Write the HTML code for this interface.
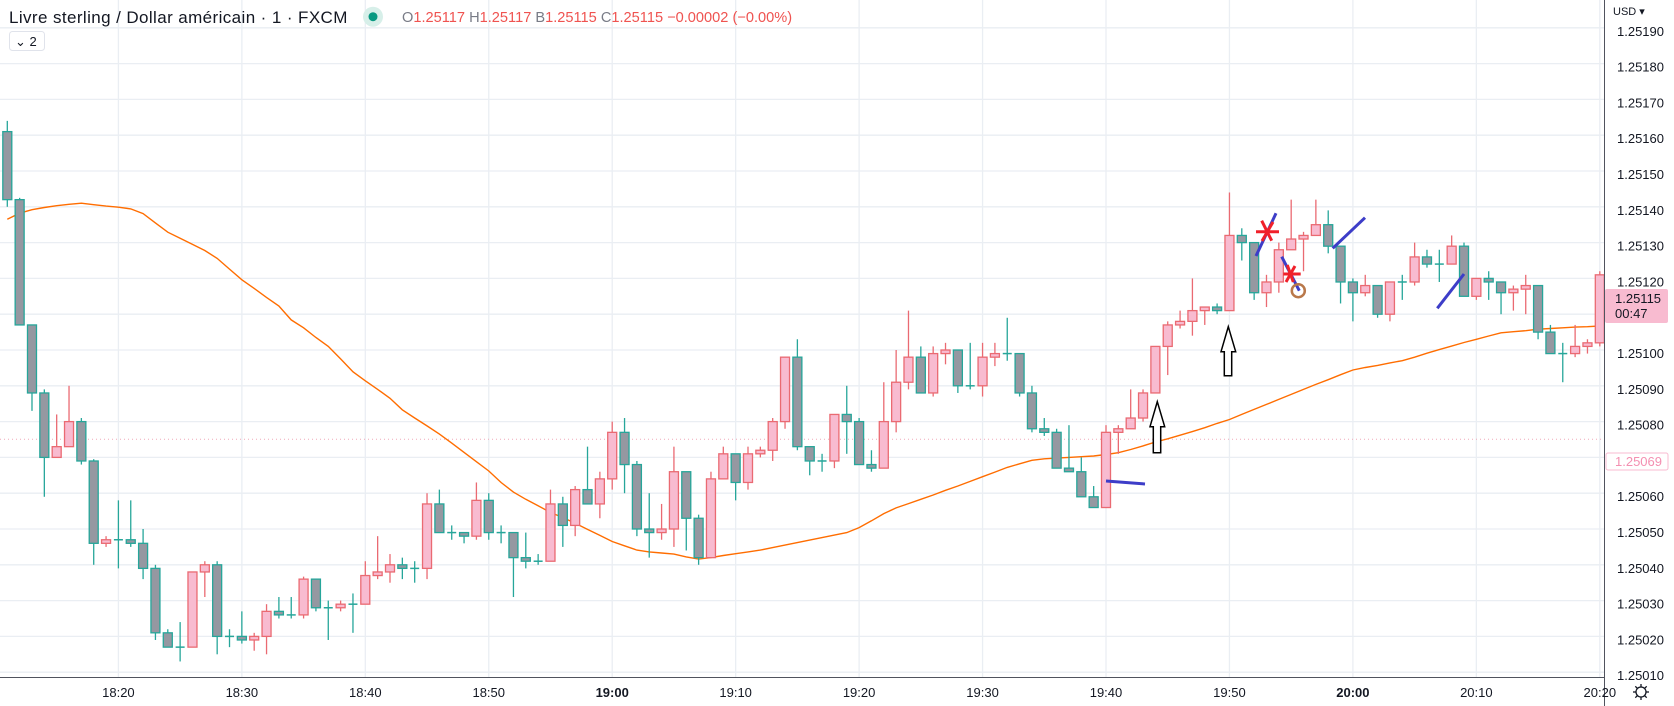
<!DOCTYPE html>
<html><head><meta charset="utf-8">
<style>
html,body{margin:0;padding:0;background:#fff;}
body{width:1674px;height:706px;overflow:hidden;position:relative;font-family:"Liberation Sans",sans-serif;}
svg{position:absolute;left:0;top:0;}
</style></head>
<body>
<svg id="chart" width="1674" height="706" viewBox="0 0 1674 706" xmlns="http://www.w3.org/2000/svg">
  <g id="grid"></g>
  <line x1="0" y1="439.3" x2="1604" y2="439.3" stroke="#f0a8b8" stroke-width="1" stroke-dasharray="1,3"/>
  <polyline id="ema" fill="none" stroke="#ff6d00" stroke-width="1.4"/>
  <g id="candles"></g>
  <g id="drawings">
    <line x1="1106" y1="481" x2="1145" y2="484" stroke="#3d3dc8" stroke-width="3"/>
    <path d="M1157.3,401.7 L1164.7,426.7 L1160.7,426.7 L1160.7,452.7 L1153.3,452.7 L1153.3,426.7 L1150,426.7 Z" fill="#fff" stroke="#000" stroke-width="1.5"/>
    <path d="M1228.3,326.7 L1235.7,351.7 L1231.7,351.7 L1231.7,375.7 L1224.3,375.7 L1224.3,351.7 L1221,351.7 Z" fill="#fff" stroke="#000" stroke-width="1.5"/>
    <line x1="1256" y1="256" x2="1276" y2="213.3" stroke="#3d3dc8" stroke-width="3"/>
    <g stroke="#f0202a" stroke-width="3">
      <line x1="1256" y1="231.7" x2="1279" y2="231.7"/>
      <line x1="1261.7" y1="220.7" x2="1271.7" y2="240.7"/>
      <line x1="1273" y1="222" x2="1262" y2="241"/>
    </g>
    <line x1="1281.7" y1="256.7" x2="1299.3" y2="290.7" stroke="#3d3dc8" stroke-width="3"/>
    <g stroke="#f0202a" stroke-width="3">
      <line x1="1283.3" y1="274" x2="1300.7" y2="274"/>
      <line x1="1287.3" y1="265" x2="1293.3" y2="282"/>
      <line x1="1295" y1="266" x2="1286" y2="282"/>
    </g>
    <circle cx="1298.3" cy="290.7" r="6.5" fill="none" stroke="#b9784a" stroke-width="2.5"/>
    <line x1="1332.7" y1="248.3" x2="1365" y2="217.7" stroke="#3d3dc8" stroke-width="3"/>
    <line x1="1437.3" y1="308.3" x2="1464" y2="274" stroke="#3d3dc8" stroke-width="3"/>
  </g>
  <!-- axes -->
  <rect x="1604" y="0" width="70" height="706" fill="#fff"/>
  <rect x="0" y="677" width="1604" height="29" fill="#fff"/>
  <line x1="1604.5" y1="0" x2="1604.5" y2="706" stroke="#50535e" stroke-width="1"/>
  <line x1="0" y1="677.5" x2="1604" y2="677.5" stroke="#50535e" stroke-width="1"/>
  <g id="yticks" font-family="Liberation Sans, sans-serif" font-size="13" fill="#131722"></g>
  <g id="xticks" font-family="Liberation Sans, sans-serif" font-size="13" fill="#131722"></g>
  <text x="1613" y="15" font-family="Liberation Sans, sans-serif" font-size="11" fill="#131722">USD ▾</text>
  <rect x="1606" y="453" width="62" height="17" rx="2" fill="#fff" stroke="#f8bbd0"/>
  <text x="1615" y="466" font-family="Liberation Sans, sans-serif" font-size="13" fill="#f48fb1">1.25069</text>
  <rect x="1605" y="289" width="63" height="34" rx="2" fill="#f8bbd0"/>
  <text x="1615" y="303" font-family="Liberation Sans, sans-serif" font-size="13" fill="#131722">1.25115</text>
  <text x="1615" y="318" font-family="Liberation Sans, sans-serif" font-size="13" fill="#131722">00:47</text>
  <g transform="translate(1641,692)" stroke="#131722" fill="none" stroke-width="1.3">
    <circle r="5"/>
    <line x1="0" y1="-8" x2="0" y2="-5"/><line x1="0" y1="5" x2="0" y2="8"/>
    <line x1="-8" y1="0" x2="-5" y2="0"/><line x1="5" y1="0" x2="8" y2="0"/>
    <line x1="-5.7" y1="-5.7" x2="-3.5" y2="-3.5"/><line x1="3.5" y1="3.5" x2="5.7" y2="5.7"/>
    <line x1="5.7" y1="-5.7" x2="3.5" y2="-3.5"/><line x1="-3.5" y1="3.5" x2="-5.7" y2="5.7"/>
  </g>
  <!-- header -->
  <text x="9" y="23" font-family="Liberation Sans, sans-serif" font-size="17" letter-spacing="0.4" fill="#131722">Livre sterling / Dollar américain · 1 · FXCM</text>
  <circle cx="373" cy="16.7" r="10" fill="#d7efe9"/>
  <circle cx="373" cy="16.7" r="4.5" fill="#089981"/>
  <text x="402" y="22" font-family="Liberation Sans, sans-serif" font-size="14.6" fill="#ef5350"><tspan fill="#787b86">O</tspan>1.25117 <tspan fill="#787b86">H</tspan>1.25117 <tspan fill="#787b86">B</tspan>1.25115 <tspan fill="#787b86">C</tspan>1.25115 −0.00002 (−0.00%)</text>
  <rect x="9.5" y="31.5" width="35" height="19" rx="3" fill="#fff" stroke="#e0e3eb"/>
  <text x="15" y="46" font-family="Liberation Sans, sans-serif" font-size="13" fill="#131722">⌄ 2</text>
</svg>
<script>
// price values in units of 0.00001 above 1.25000
const opens  = [161,142,107,88,70,73,80,69,46,47,47,46,39,21,17,17,38,40,20,20,19,20,27,26,26,36,28,28,29,29,37,38,40,39,39,57,49,49,48,58,49,49,42,41,41,57,51,61,57,64,77,68,50,49,50,66,53,42,64,71,63,71,72,80,98,73,69,69,82,80,68,67,80,91,98,88,99,100,90,90,98,99,99,88,78,77,67,66,59,56,77,78,81,88,101,107,108,111,112,111,132,130,116,119,128,131,132,135,129,119,116,118,110,119,119,126,124,124,129,115,120,119,116,117,118,105,99,99,101,102];
const highs  = [164,142.5,107,89,82,90,81,69.5,48,58,58,50,40,22,24,38,41,41,22,27,21,29,31,31,36.7,36,30,30,32,41,48,43,42,41,60,61,51,49,63,60,51,49,49,43,61,59,62,73,66,80,81,69,60,57,73,66,54,66,73,71,73,73,81,98,103,73,71,82,90,81,72,91,100,111,101,101,102,100,102,102,102,109,99,90,81,78,79,70,62,79,79,89,89,101,108,111,120,112,113,144,134,130,121,130,142,133,142,139,129,120,121,118,119,121,130,128,128,132,130,120,122,119,118,121,118,107,102,107,103,122];
const lows   = [140,107,83,59,70,73,68,40,45,39,45,36,19,17,13,17,31,15,17,18,16,15,25,25,25,27,19,27,21,29,36,35,36,35,36,49,47,46,47,47,46,31,39,40,41,45,48,57,53,61,60,48,42,47,45,44,40,42,64,58,61,70,69,78,72,65,66,67,71,68,66,67,77,89,88,87,96,88,89,87,95.5,97,87,77,76,67,66,59,56,56,71,78,80,88,93,106,104,107,110,111,125,114,112,116,128,122,132,127,113,108,115,109,108,114,118,123,119,124,115,114,114,110,111,110,103,99,91,98,99,101];
const closes = [142,107,88,70,73,80,69,46,47,47,46,39,21,17,17,38,40,20,20,19,20,27,26,26,36,28,28,29,29,37,38,40,39,39,57,49,49,48,58,49,49,42,41,41,57,51,61,57,64,77,68,50,49,50,66,53,42,64,71,63,71,72,80,98,73,69,69,82,80,68,67,80,91,98,88,99,100,90,90,98,99,99,88,78,77,67,66,59,56,77,78,81,88,101,107,108,111,112,111,132,130,116,119,128,131,132,135,129,119,116,118,110,119,119,126,124,124,129,115,120,119,116,117,118,105,99,99,101,102,121];
const emaValues = [136.5,138.2,139.2,139.8,140.3,140.7,141,140.6,140.2,139.9,139.4,138.1,135.5,132.9,131.2,129.5,127.8,125.6,122.6,119.6,117.2,114.7,112.3,108.4,106.2,103.5,101,97.5,93.9,91.4,89,86.5,83.3,81,78.8,76.5,74,71.4,68.8,66.2,63,60.3,58.3,56.5,54.6,53.2,51.6,49.9,48.2,46.5,45.3,44.1,43.6,43.3,43,42.2,41.6,42,42.6,43.1,43.6,44.1,44.8,45.5,46.2,46.9,47.6,48.3,49,50.4,52.3,54.3,55.9,57.1,58.3,59.5,60.8,62,63.3,64.6,65.9,67.2,68.2,69.2,69.6,69.8,70,70.2,70.4,70.8,71.3,72.2,73.2,74.3,75.2,76.2,77.2,78.3,79.5,80.6,82,83.4,84.8,86.2,87.6,89,90.4,91.7,93.1,94.4,95.1,95.7,96.4,97,98,99.1,100.1,101.1,102.1,103,103.9,104.8,105.1,105.4,105.8,106,106.2,106.4,106.5,106.7];
const priceTicks = [190,180,170,160,150,140,130,120,110,100,90,80,70,60,50,40,30,20,10];
const timeTickLabels = ["18:20","18:30","18:40","18:50","19:00","19:10","19:20","19:30","19:40","19:50","20:00","20:10","20:20"];
const timeTickMinutes = [9,19,29,39,49,59,69,79,89,99,109,119,129]; // minutes after first candle (18:11)

const NS = "http://www.w3.org/2000/svg";
function xOf(i){ return 7.3 + i*12.345; }
function yOf(v){ return 350 - (v-100)*3.58; }
function mk(tag, attrs, parent){
  const e = document.createElementNS(NS, tag);
  for (const k in attrs) e.setAttribute(k, attrs[k]);
  parent.appendChild(e);
  return e;
}
const grid = document.getElementById('grid');
priceTicks.forEach(v=>{
  const l = mk('line',{x1:0,x2:1604,y1:yOf(v),y2:yOf(v),stroke:'#eaeef3','stroke-width':1.3},grid);
  
  
});
timeTickMinutes.forEach(m=>{
  const l = mk('line',{x1:xOf(m),x2:xOf(m),y1:0,y2:677,stroke:'#eaeef3','stroke-width':1.3},grid);
  
  
});
const yt = document.getElementById('yticks');
priceTicks.forEach(v=>{
  const t = mk('text',{x:1617,y:yOf(v)+8},yt);
  t.textContent = (1.25 + v*1e-5).toFixed(5);
  
  
});
const xt = document.getElementById('xticks');
timeTickLabels.forEach((lab,k)=>{
  const bold = (lab==="19:00"||lab==="20:00");
  const t = mk('text',{x:xOf(timeTickMinutes[k]),y:697,'text-anchor':'middle','font-weight':bold?'bold':'normal'},xt);
  t.textContent = lab;
  
  
});
// EMA
document.getElementById('ema').setAttribute('points', emaValues.map((v,i)=>xOf(i).toFixed(1)+','+yOf(v).toFixed(1)).join(' '));
// candles
const cg = document.getElementById('candles');
for (let i=0;i<opens.length;i++){
  const up = closes[i] > opens[i];
  const stroke = up ? '#ea6a72' : '#26a69a';
  const fill = up ? '#f8bbd0' : '#9598a1';
  const x = xOf(i);
  const g = mk('g',{},cg);
  
  
  mk('line',{x1:x,x2:x,y1:yOf(highs[i]),y2:yOf(lows[i]),stroke:stroke,'stroke-width':1.3},g);
  const top = yOf(Math.max(opens[i],closes[i]));
  const bot = yOf(Math.min(opens[i],closes[i]));
  const h = Math.max(bot-top, 0.01);
  if (h < 1.5) {
    mk('line',{x1:x-4.5,x2:x+4.5,y1:top,y2:top,stroke:stroke,'stroke-width':1.5},g);
  } else {
    mk('rect',{x:x-4.5,y:top,width:9,height:h,fill:fill,stroke:stroke,'stroke-width':1.3},g);
  }
}
</script>
</body></html>
